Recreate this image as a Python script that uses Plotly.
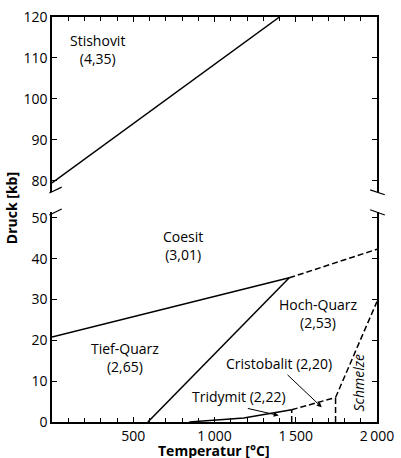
import plotly.graph_objects as go

# ---- data (temperature in °C, pressure in kb) ----
stishovit_T = [0, 1400]
stishovit_P = [79.5, 120]

coesit_quarz_T = [0, 1460]
coesit_quarz_P = [20.8, 35.3]

coesit_melt_T = [1460, 2000]
coesit_melt_P = [35.3, 42.3]

tief_hoch_T = [590, 1460]
tief_hoch_P = [0, 35.3]

tridymit_T = [845, 1180, 1475]
tridymit_P = [0, 1.0, 3.0]

cristobalit_T = [1475, 1745]
cristobalit_P = [3.0, 6.0]

trid_crist_T = [1475, 1475]
trid_crist_P = [0, 3.0]

crist_melt_T = [1745, 1745]
crist_melt_P = [0, 6.0]

schmelze_T = [1745, 2000]
schmelze_P = [6.0, 29.5]

x_ticks = [500, 1000, 1500, 2000]
x_ticktext = ["500", "1\u2009000", "1\u2009500", "2\u2009000"]
y_ticks_low = [0, 10, 20, 30, 40, 50]
y_ticks_high = [80, 90, 100, 110, 120]

labels_low = [
    ("Coesit<br>(3,01)", 804, 43.2),
    ("Tief-Quarz<br>(2,65)", 451, 15.7),
    ("Hoch-Quarz<br>(2,53)", 1640, 26.6),
    ("Cristobalit (2,20)", 1398, 14.3),
    ("Tridymit (2,22)", 1151, 6.3),
]
labels_high = [("Stishovit<br>(4,35)", 278, 112.1)]

FONT = "Open Sans"
LW = 1.5
fig = go.Figure()

def line(T, P, dash="solid", top=False):
    fig.add_trace(go.Scatter(
        x=T, y=P, mode="lines",
        line=dict(color="black", width=LW, dash=dash),
        xaxis="x2" if top else "x", yaxis="y2" if top else "y",
        showlegend=False, hoverinfo="skip"))

line(stishovit_T, stishovit_P, top=True)
line(coesit_quarz_T, coesit_quarz_P)
line(coesit_melt_T, coesit_melt_P, dash="6px,3px")
line(tief_hoch_T, tief_hoch_P)
line(tridymit_T, tridymit_P)
line(cristobalit_T, cristobalit_P, dash="6px,3px")
line(trid_crist_T, trid_crist_P, dash="6px,3px")
line(crist_melt_T, crist_melt_P, dash="6px,3px")
line(schmelze_T, schmelze_P, dash="6px,3px")

ann = []
for t, x, y in labels_low:
    ann.append(dict(text=t, x=x, y=y, xref="x", yref="y", showarrow=False,
                    font=dict(size=14, color="black", family=FONT)))
for t, x, y in labels_high:
    ann.append(dict(text=t, x=x, y=y, xref="x2", yref="y2", showarrow=False,
                    font=dict(size=14, color="black", family=FONT)))
ann.append(dict(text="<i>Schmelze</i>", x=1885, y=9.5, xref="x", yref="y",
                showarrow=False, textangle=-90,
                font=dict(size=14, color="black", family=FONT)))
# arrows
ann.append(dict(text="", x=1395, y=1.6, ax=1196, ay=3.4, xref="x", yref="y",
                axref="x", ayref="y", showarrow=True, arrowhead=2,
                arrowsize=1, arrowwidth=1, arrowcolor="black"))
ann.append(dict(text="", x=1660, y=3.6, ax=1440, ay=11.9, xref="x", yref="y",
                axref="x", ayref="y", showarrow=True, arrowhead=2,
                arrowsize=1, arrowwidth=1, arrowcolor="black"))
# axis titles
ann.append(dict(text="<b>Temperatur [°C]</b>", x=0.497, y=-0.07, xref="paper",
                yref="paper", showarrow=False, xanchor="center", yanchor="middle",
                font=dict(size=14, color="black", family=FONT)))
ann.append(dict(text="<b>Druck [kb]</b>", x=-0.125, y=0.529, xref="paper",
                yref="paper", showarrow=False, textangle=-90,
                xanchor="center", yanchor="middle",
                font=dict(size=14, color="black", family=FONT)))

# axis break marks
brk = dict(type="line", xref="paper", yref="paper",
           line=dict(color="black", width=1.2))
shapes = [
    dict(brk, x0=-0.008, y0=0.5655, x1=0.03, y1=0.580),
    dict(brk, x0=-0.008, y0=0.511, x1=0.03, y1=0.526),
    dict(brk, x0=0.979, y0=0.573, x1=1.024, y1=0.561),
    dict(brk, x0=0.979, y0=0.524, x1=1.024, y1=0.511),
]

axis_common = dict(showline=True, linecolor="black", linewidth=LW,
                   showgrid=False, zeroline=False, ticks="inside",
                   tickcolor="black", tickwidth=1.2,
                   ticklabeloverflow="allow",
                   tickfont=dict(size=14, color="black", family=FONT))

fig.update_layout(
    width=401, height=458,
    margin=dict(l=52, r=9, t=7, b=36),
    plot_bgcolor="white", paper_bgcolor="white",
    annotations=ann, shapes=shapes,
    xaxis=dict(axis_common, range=[0, 2000], tickvals=x_ticks,
               ticktext=x_ticktext, ticklen=5,
               anchor="y", domain=[0, 1],
               minor=dict(dtick=100, ticks="inside", ticklen=4,
                          tickcolor="black", tickwidth=1)),
    xaxis2=dict(axis_common, range=[0, 2000], tickvals=x_ticks, ticklen=5,
                matches="x", anchor="y2", side="top", showticklabels=False,
                minor=dict(dtick=100, ticks="inside", ticklen=4,
                           tickcolor="black", tickwidth=1)),
    yaxis=dict(axis_common, range=[0, 51.46], tickvals=y_ticks_low,
               ticklen=5, mirror="ticks", domain=[0, 0.519], anchor="x"),
    yaxis2=dict(axis_common, range=[77.3, 120], tickvals=y_ticks_high,
                ticklen=5, mirror="ticks", domain=[0.568, 1], anchor="x2"),
)

# remove the default page margin so the figure fills the window exactly
fig.write_html("out.html",
               config={"displayModeBar": False},
               post_script="document.body.style.margin='0';"
                           "document.body.style.overflow='hidden';")
